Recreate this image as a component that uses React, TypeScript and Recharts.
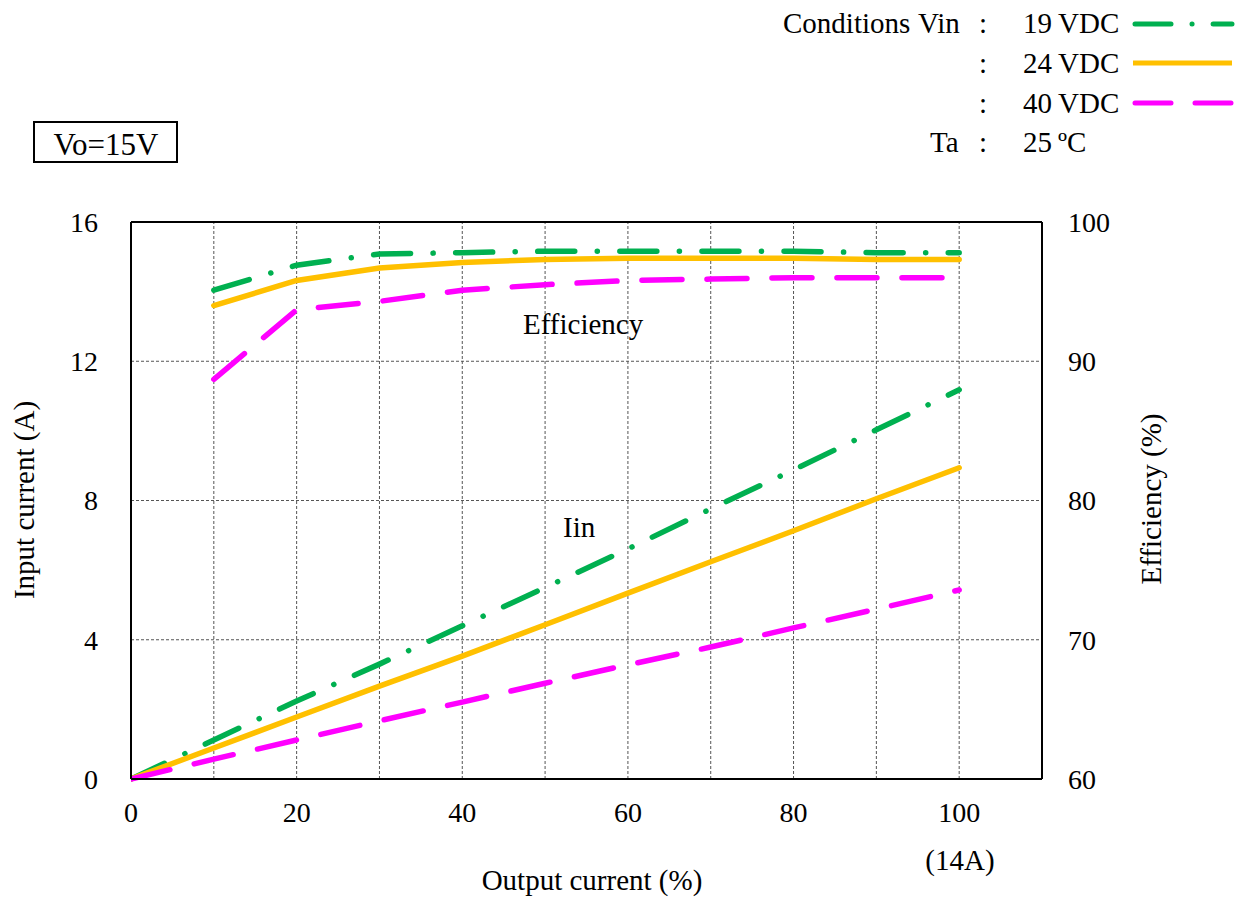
import { LineChart, Line, CartesianGrid, XAxis, YAxis, ReferenceLine } from "recharts";

// output current (%) for the input current curves
const loadIin = [0, 10, 20, 30, 40, 50, 60, 70, 80, 90, 100];
const iin19 = [0, 1.12, 2.24, 3.3, 4.4, 5.5, 6.61, 7.76, 8.88, 10.03, 11.18];
const iin24 = [0, 0.89, 1.78, 2.67, 3.53, 4.43, 5.34, 6.24, 7.13, 8.05, 8.94];
const iin40 = [0, 0.57, 1.12, 1.67, 2.21, 2.75, 3.28, 3.79, 4.34, 4.88, 5.43];

// output current (%) for the efficiency curves
const loadEff = [10, 20, 30, 40, 50, 60, 70, 80, 90, 100];
const eff19 = [95.1, 96.9, 97.7, 97.8, 97.9, 97.9, 97.9, 97.9, 97.8, 97.8];
const eff24 = [94.0, 95.8, 96.7, 97.1, 97.3, 97.4, 97.4, 97.4, 97.3, 97.3];
const eff40 = [88.7, 93.7, 94.3, 95.1, 95.5, 95.8, 95.9, 96.0, 96.0, 96.0];

const xTicks = [0, 20, 40, 60, 80, 100];
const xGrid = [10, 20, 30, 40, 50, 60, 70, 80, 90, 100];
const leftTicks = [0, 4, 8, 12, 16];
const rightTicks = [60, 70, 80, 90, 100];

const GREEN = "#00b050";
const ORANGE = "#ffc000";
const MAGENTA = "#ff00ff";
const FONT = "'Liberation Serif', 'Times New Roman', serif";

const toRows = (xs: number[], ys: number[]) => xs.map((x, i) => ({ x, y: ys[i] }));

const DASH_DOT = "37 22.5 0.1 22.5";
const DASH = "40 25";

const tickStyle = { fill: "#000", fontSize: 28, fontFamily: FONT };

const App = () => {
  return (
    <div style={{ position: "absolute", left: 0, top: 0, width: 1245, height: 897, background: "#fff" }}>
      <LineChart width={1245} height={897} margin={{ top: 222, right: 0, bottom: 0, left: 0 }}>
        <CartesianGrid yAxisId="left" vertical={false} stroke="#555" strokeDasharray="3 2" />
        {xGrid.map((v) => (
          <ReferenceLine key={v} x={v} yAxisId="left" stroke="#555" strokeDasharray="3 2" />
        ))}
        <XAxis
          type="number"
          dataKey="x"
          domain={[0, 110]}
          ticks={xTicks}
          allowDataOverflow
          height={118}
          tickSize={0}
          tickMargin={23}
          axisLine={{ stroke: "#000", strokeWidth: 2 }}
          tick={tickStyle}
        />
        <YAxis
          yAxisId="left"
          type="number"
          domain={[0, 16]}
          ticks={leftTicks}
          width={131}
          tickSize={0}
          tickMargin={33}
          axisLine={{ stroke: "#000", strokeWidth: 2 }}
          tick={tickStyle}
        />
        <YAxis
          yAxisId="right"
          orientation="right"
          type="number"
          domain={[60, 100]}
          ticks={rightTicks}
          width={203}
          tickSize={0}
          tickMargin={26}
          axisLine={{ stroke: "#000", strokeWidth: 2 }}
          tick={tickStyle}
        />
        <ReferenceLine y={16} yAxisId="left" stroke="#000" strokeWidth={2} />

        <Line yAxisId="left" data={toRows(loadIin, iin19)} dataKey="y" type="linear" stroke={GREEN} strokeWidth={5.5} strokeDasharray={DASH_DOT} strokeLinecap="round" dot={false} isAnimationActive={false} />
        <Line yAxisId="left" data={toRows(loadIin, iin24)} dataKey="y" type="linear" stroke={ORANGE} strokeWidth={5.5} strokeLinecap="round" dot={false} isAnimationActive={false} />
        <Line yAxisId="left" data={toRows(loadIin, iin40)} dataKey="y" type="linear" stroke={MAGENTA} strokeWidth={5.5} strokeDasharray={DASH} strokeLinecap="round" dot={false} isAnimationActive={false} />

        <Line yAxisId="right" data={toRows(loadEff, eff19)} dataKey="y" type="linear" stroke={GREEN} strokeWidth={5.5} strokeDasharray={DASH_DOT} strokeLinecap="round" dot={false} isAnimationActive={false} />
        <Line yAxisId="right" data={toRows(loadEff, eff24)} dataKey="y" type="linear" stroke={ORANGE} strokeWidth={5.5} strokeLinecap="round" dot={false} isAnimationActive={false} />
        <Line yAxisId="right" data={toRows(loadEff, eff40)} dataKey="y" type="linear" stroke={MAGENTA} strokeWidth={5.5} strokeDasharray={DASH} strokeLinecap="round" dot={false} isAnimationActive={false} />
      </LineChart>

      <svg
        width={1245}
        height={897}
        style={{ position: "absolute", left: 0, top: 0, pointerEvents: "none" }}
        fontFamily={FONT}
        fontSize={29}
        fill="#000"
      >
        {/* conditions legend */}
        <text x={783} y={33}>Conditions</text>
        <text x={918} y={33}>Vin</text>
        <text x={979} y={33}>:</text>
        <text x={1023} y={33}>19</text>
        <text x={1058} y={33}>VDC</text>
        <line x1={1135} y1={24} x2={1232} y2={24} stroke={GREEN} strokeWidth={5} strokeLinecap="round" strokeDasharray="36 21 0.1 21" />

        <text x={979} y={73}>:</text>
        <text x={1023} y={73}>24</text>
        <text x={1058} y={73}>VDC</text>
        <line x1={1133} y1={63} x2={1232} y2={63} stroke={ORANGE} strokeWidth={5} />

        <text x={979} y={113}>:</text>
        <text x={1023} y={113}>40</text>
        <text x={1058} y={113}>VDC</text>
        <line x1={1135} y1={103} x2={1232} y2={103} stroke={MAGENTA} strokeWidth={5} strokeLinecap="round" strokeDasharray="36 24" />

        <text x={930} y={152}>Ta</text>
        <text x={979} y={152}>:</text>
        <text x={1023} y={152}>25</text>
        <text x={1058} y={152}>ºC</text>

        {/* output voltage box */}
        <rect x={34} y={122} width={143} height={40} fill="#fff" stroke="#000" strokeWidth={2} />
        <text x={106} y={155} textAnchor="middle" fontSize={31}>Vo=15V</text>

        {/* curve labels */}
        <text x={523} y={334}>Efficiency</text>
        <text x={563} y={537}>Iin</text>

        {/* axis titles */}
        <text x={592} y={890} textAnchor="middle">Output current (%)</text>
        <text x={960} y={870} textAnchor="middle">(14A)</text>
        <text x={34} y={500} textAnchor="middle" transform="rotate(-90 34 500)">Input current (A)</text>
        <text x={1161} y={499} textAnchor="middle" transform="rotate(-90 1161 499)">Efficiency (%)</text>
      </svg>
    </div>
  );
};

export default App;
